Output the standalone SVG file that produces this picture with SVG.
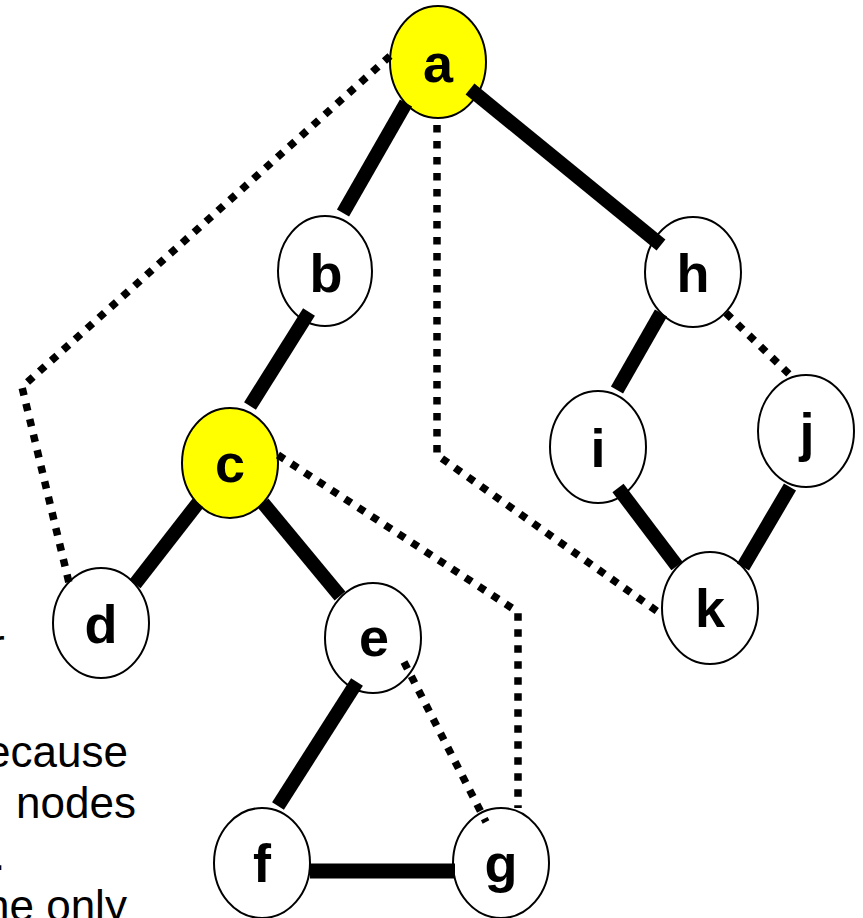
<svg xmlns="http://www.w3.org/2000/svg" width="863" height="918" viewBox="0 0 863 918">
<style>
.node ellipse{fill:#fff;stroke:#000;stroke-width:2}
.node.hl ellipse{fill:#ffff00}
.node text{font-family:"Liberation Sans",Arial,sans-serif;font-weight:bold;font-size:54px;text-anchor:middle;fill:#000}
.tree{stroke:#000;stroke-width:14;fill:none;stroke-linecap:butt}
.back{stroke:#000;stroke-width:7.5;fill:none;stroke-dasharray:7.5 8.5;stroke-linecap:butt;stroke-linejoin:miter}
.note{font-family:"Liberation Sans",Arial,sans-serif;font-size:44px;fill:#000}
</style>
<rect width="863" height="918" fill="#fff"/>
<g id="notes">
<text class="note" x="-10" y="660">r</text>
<text class="note" x="-14" y="767">ecause</text>
<text class="note" x="16" y="818">nodes</text>
<text class="note" x="-7" y="870">.</text>
<text class="note" x="-15" y="921">he only</text>
</g>
<g id="node-a" class="node hl"><ellipse cx="438" cy="62" rx="48" ry="56"/><text x="438" y="82">a</text></g>
<g id="node-b" class="node"><ellipse cx="325" cy="271" rx="47" ry="55"/><text x="326" y="292">b</text></g>
<g id="node-c" class="node hl"><ellipse cx="230" cy="463" rx="48" ry="55"/><text x="230" y="482">c</text></g>
<g id="node-d" class="node"><ellipse cx="101" cy="623" rx="48" ry="55"/><text x="101" y="643">d</text></g>
<g id="node-e" class="node"><ellipse cx="373" cy="638" rx="48" ry="55"/><text x="374" y="656">e</text></g>
<g id="node-f" class="node"><ellipse cx="262" cy="863" rx="48" ry="55"/><text x="262" y="882">f</text></g>
<g id="node-g" class="node"><ellipse cx="501" cy="863" rx="48" ry="55"/><text x="501" y="882">g</text></g>
<g id="node-h" class="node"><ellipse cx="693" cy="272" rx="48" ry="55"/><text x="693" y="292">h</text></g>
<g id="node-i" class="node"><ellipse cx="598" cy="447" rx="48" ry="56"/><text x="598" y="467">i</text></g>
<g id="node-j" class="node"><ellipse cx="806" cy="431" rx="48" ry="56"/><text x="807" y="451">j</text></g>
<g id="node-k" class="node"><ellipse cx="710" cy="608" rx="48" ry="56"/><text x="710" y="627">k</text></g>
<g id="connectors">
<line class="tree" x1="406" y1="103" x2="343" y2="213"/>
<line class="tree" x1="470" y1="89" x2="661" y2="245"/>
<line class="tree" x1="309" y1="312" x2="250" y2="406"/>
<line class="tree" x1="198" y1="503" x2="135" y2="584"/>
<line class="tree" x1="263" y1="503" x2="340" y2="596"/>
<line class="tree" x1="357" y1="682" x2="278" y2="806"/>
<line class="tree" x1="310" y1="871" x2="455" y2="871" style="stroke-width:15"/>
<line class="tree" x1="661" y1="313" x2="617" y2="390"/>
<line class="tree" x1="618" y1="488" x2="677" y2="566"/>
<line class="tree" x1="790" y1="487" x2="743" y2="567"/>
<polyline class="back" points="390,56 22,387 70,587"/>
<polyline class="back" points="437,125 437,455 661,614"/>
<polyline class="back" points="278,455 518,612 518,808"/>
<line class="back" x1="404" y1="662" x2="486" y2="822"/>
<line class="back" x1="726" y1="313" x2="790" y2="375"/>
</g>
</svg>
